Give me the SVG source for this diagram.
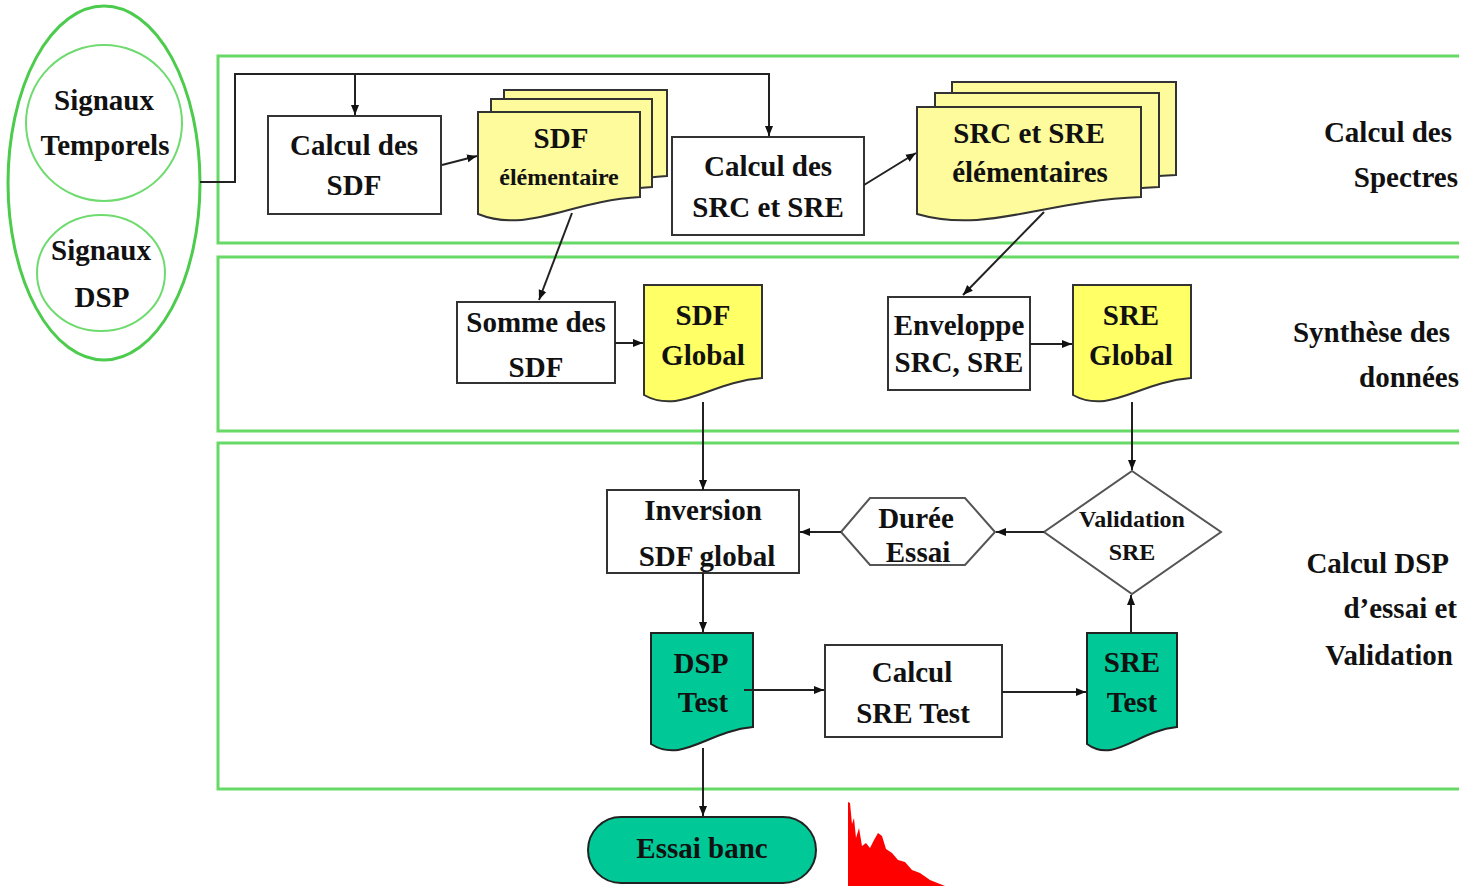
<svg xmlns="http://www.w3.org/2000/svg" width="1459" height="886" viewBox="0 0 1459 886">
<defs>
<style>
text{font-family:'Liberation Serif';font-weight:bold;font-size:29px;fill:#111;text-anchor:middle}
.sm{font-size:24px}
.r{text-anchor:end}
.band{fill:none;stroke:#66d966;stroke-width:3}
.box{fill:#fff;stroke:#333;stroke-width:2}
.ye{fill:#fdfb9c;stroke:#333;stroke-width:2}
.yb{fill:#ffff66;stroke:#333;stroke-width:2}
.gr{fill:#00c896;stroke:#222;stroke-width:2}
.sh{fill:#fff;stroke:#555;stroke-width:2}
.c{fill:none;stroke:#222;stroke-width:2}
.a{marker-end:url(#arr)}
</style>
<marker id="arr" viewBox="0 0 10 10" refX="10" refY="5" markerWidth="10" markerHeight="10" markerUnits="userSpaceOnUse" orient="auto"><path d="M0,1 L10,5 L0,9 z" fill="#111"/></marker>
</defs>
<rect width="1459" height="886" fill="#fff"/>
<g font-family="Liberation Serif">

<g id="bands">
<rect class="band" x="218" y="56" width="1260" height="187"/>
<rect class="band" x="218" y="257" width="1260" height="174"/>
<rect class="band" x="218" y="443" width="1260" height="346"/>
</g>

<g id="band-labels">
<text class="r" x="1452" y="142">Calcul des</text>
<text class="r" x="1458" y="187">Spectres</text>
<text class="r" x="1450" y="342">Synthèse des</text>
<text class="r" x="1459" y="387">données</text>
<text class="r" x="1449" y="573">Calcul DSP</text>
<text class="r" x="1457" y="618">d’essai et</text>
<text class="r" x="1453" y="665">Validation</text>
</g>

<g id="signaux">
<ellipse cx="104" cy="183" rx="96" ry="177" fill="none" stroke="#4ccc4c" stroke-width="3"/>
<g id="signaux-temporels">
<circle cx="104" cy="123" r="78" fill="none" stroke="#6edb6e" stroke-width="2"/>
<text x="104" y="110">Signaux</text>
<text x="105" y="155">Temporels</text>
</g>
<g id="signaux-dsp">
<ellipse cx="101" cy="273" rx="64" ry="58" fill="none" stroke="#6edb6e" stroke-width="2"/>
<text x="101" y="260">Signaux</text>
<text x="102" y="307">DSP</text>
</g>
</g>

<g id="calcul-sdf">
<rect class="box" x="268" y="116" width="173" height="98"/>
<text x="354" y="155">Calcul des</text>
<text x="354" y="195">SDF</text>
</g>

<g id="sdf-elementaire">
<path class="ye" d="M504,90 H667 V176 c-72,4 -112,37 -163,17 Z"/>
<path class="ye" d="M491,99 H652 V187 c-71,4 -112,37 -161,17 Z"/>
<path class="ye" d="M478,112 H640 V197 c-71,4 -112,37 -162,17 Z"/>
<text x="561" y="148">SDF</text>
<text class="sm" x="559" y="185">élémentaire</text>
</g>

<g id="calcul-src-sre">
<rect class="box" x="672" y="137" width="192" height="98"/>
<text x="768" y="176">Calcul des</text>
<text x="768" y="217">SRC et SRE</text>
</g>

<g id="src-sre-elementaires">
<path class="ye" d="M952,82 H1176 V175 c-99,4 -155,37 -224,17 Z"/>
<path class="ye" d="M935,93 H1159 V187 c-99,4 -155,37 -224,17 Z"/>
<path class="ye" d="M917,107 H1141 V197 c-99,4 -155,37 -224,17 Z"/>
<text x="1029" y="143">SRC et SRE</text>
<text x="1030" y="182">élémentaires</text>
</g>

<g id="somme-sdf">
<rect class="box" x="457" y="302" width="158" height="81"/>
<text x="536" y="332">Somme des</text>
<text x="536" y="377">SDF</text>
</g>

<g id="sdf-global">
<path class="yb" d="M644,285 H762 V378 c-52,4 -82,37 -118,17 Z"/>
<text x="703" y="325">SDF</text>
<text x="703" y="365">Global</text>
</g>

<g id="enveloppe">
<rect class="box" x="888" y="297" width="142" height="93"/>
<text x="959" y="335">Enveloppe</text>
<text x="959" y="372">SRC, SRE</text>
</g>

<g id="sre-global">
<path class="yb" d="M1073,285 H1191 V378 c-52,4 -82,37 -118,17 Z"/>
<text x="1131" y="325">SRE</text>
<text x="1131" y="365">Global</text>
</g>

<g id="inversion">
<rect class="box" x="607" y="490" width="192" height="83"/>
<text x="703" y="520">Inversion</text>
<text x="707" y="566">SDF global</text>
</g>

<g id="duree-essai">
<polygon class="sh" points="841,532 870,498 965,498 995,532 965,565 870,565"/>
<text x="916" y="528">Durée</text>
<text x="918" y="562">Essai</text>
</g>

<g id="validation-sre">
<polygon class="sh" points="1132,471 1221,532 1132,594 1044,532"/>
<text class="sm" x="1132" y="527">Validation</text>
<text class="sm" x="1132" y="560">SRE</text>
</g>

<g id="dsp-test">
<path class="gr" d="M651,633 H753 V727 c-45,4 -71,37 -102,17 Z"/>
<text x="701" y="673">DSP</text>
<text x="703" y="712">Test</text>
</g>

<g id="calcul-sre-test">
<rect class="box" x="825" y="645" width="177" height="92"/>
<text x="912" y="682">Calcul</text>
<text x="913" y="723">SRE Test</text>
</g>

<g id="sre-test">
<path class="gr" d="M1087,633 H1177 V727 c-40,4 -63,37 -90,17 Z"/>
<text x="1132" y="672">SRE</text>
<text x="1132" y="712">Test</text>
</g>

<g id="essai-banc">
<rect class="gr" x="588" y="817" width="228" height="66" rx="33" ry="33"/>
<text x="702" y="858">Essai banc</text>
</g>

<g id="spectrum">
<path fill="#ff0000" d="M848,886 L848,802 L850,803 L852,824 L854,818 L856,838 L859,828 L862,846 L866,843 L870,848 L874,840 L878,833 L882,836 L886,849 L892,853 L898,860 L905,862 L912,870 L920,873 L930,880 L945,886 Z"/>
</g>

<g id="connectors">
<path class="c a" d="M200,182 H235 V74 H769 V136"/>
<path class="c a" d="M355,74 V115"/>
<path class="c a" d="M442,165 L477,156"/>
<path class="c a" d="M864,185 L916,153"/>
<path class="c a" d="M572,213 L539,300"/>
<path class="c a" d="M1044,212 L963,295"/>
<path class="c a" d="M615,343 H643"/>
<path class="c a" d="M1030,344 H1072"/>
<path class="c a" d="M703,402 V490"/>
<path class="c a" d="M1132,402 V470"/>
<path class="c a" d="M1044,532 H996"/>
<path class="c a" d="M841,532 H800"/>
<path class="c a" d="M703,573 V632"/>
<path class="c a" d="M744,690 H824"/>
<path class="c a" d="M1002,692 H1086"/>
<path class="c a" d="M1131,633 V595"/>
<path class="c a" d="M703,748 V816"/>
</g>
</g>
</svg>
